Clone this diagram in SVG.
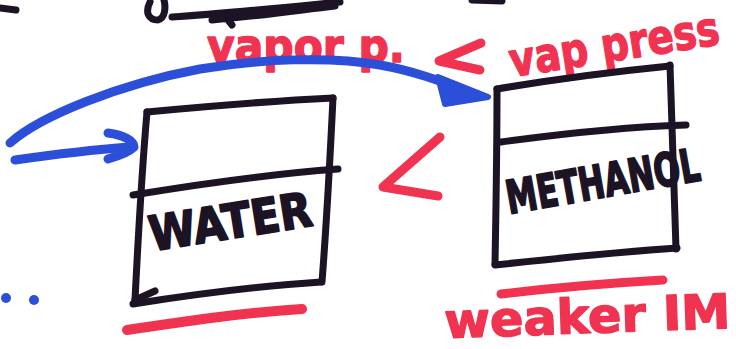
<svg xmlns="http://www.w3.org/2000/svg" width="736" height="349" viewBox="0 0 736 349">
<style>
.blk{fill:none;stroke:#1c1424;stroke-width:7;stroke-linecap:round;stroke-linejoin:round}
.red{fill:none;stroke:#f03350;stroke-width:9;stroke-linecap:round;stroke-linejoin:round}
.blu{fill:none;stroke:#2b4fd9;stroke-width:9;stroke-linecap:round;stroke-linejoin:round}
.lbl{font-family:"DejaVu Sans",sans-serif;font-weight:bold;fill:#1c1424;stroke:#1c1424;stroke-width:2;stroke-linejoin:round}
.rtx{font-family:"DejaVu Sans",sans-serif;font-weight:bold;fill:#f03350;stroke:#f03350;stroke-width:1.5;stroke-linejoin:round}
</style>
<rect width="736" height="349" fill="#ffffff"/>
<!-- top fragments -->
<path class="blk" d="M0,8 L16,10"/>
<path class="blk" d="M150,2 C145,12 148,20 158,20 C165,18 166,8 164,0"/>
<path class="blk" d="M172,17 C220,14 280,8 340,2"/>
<path class="blk" d="M212,20 C260,16 300,10 335,6"/>
<path class="blk" d="M228,20 L232,25"/>
<path class="blk" d="M472,0 L502,1"/>
<!-- red annotations -->
<text class="rtx" x="207" y="62" font-size="46" textLength="198" lengthAdjust="spacingAndGlyphs">vapor p.</text>
<path class="red" d="M481,43 L439,61 L480,70"/>
<text class="rtx" x="512" y="77" font-size="47" textLength="212" lengthAdjust="spacingAndGlyphs" transform="rotate(-9 512 77)">vap press</text>
<path class="red" d="M440,137 L383,187 L438,196"/>
<path class="red" d="M127,330 C180,322 240,313 302,309" style="stroke-width:10"/>
<path class="red" d="M501,294 C560,287 610,283 663,280"/>
<text class="rtx" x="445" y="338" font-size="48" textLength="286" lengthAdjust="spacingAndGlyphs" transform="rotate(-2 445 338)">weaker IM</text>
<!-- nodes -->
<g id="water">
<path class="blk" d="M147,112 C210,106 270,101 333,98"/>
<path class="blk" d="M147,112 C142,170 138,240 135,300"/>
<path class="blk" d="M333,98 C330,160 326,230 322,282"/>
<path class="blk" d="M133,304 C190,295 260,286 321,282"/>
<path class="blk" d="M133,195 C200,184 270,174 338,169"/>
<path class="blk" d="M135,300 L155,291"/>
<text class="lbl" x="152" y="251" font-size="48" textLength="164" lengthAdjust="spacingAndGlyphs" transform="rotate(-9 152 251)">WATER</text>
</g>
<g id="methanol">
<path class="blk" d="M497,89 C550,80 610,72 670,66"/>
<path class="blk" d="M497,89 C497,150 496,210 495,264"/>
<path class="blk" d="M670,65 C672,130 674,190 676,249"/>
<path class="blk" d="M495,265 C560,258 620,252 677,248"/>
<path class="blk" d="M501,142 C560,134 620,127 686,125"/>
<text class="lbl" x="509" y="214" font-size="46" textLength="196" lengthAdjust="spacingAndGlyphs" transform="rotate(-10 509 214)">METHANOL</text>
</g>
<!-- connectors -->
<g id="connectors">
<path class="blu" d="M10,143 C40,116 120,84 200,69 C260,59 330,56 380,65 C420,72 450,85 480,96"/>
<path d="M438,77 L488,97 L445,104 Z" fill="#2b4fd9" stroke="#2b4fd9" stroke-width="6" stroke-linejoin="round"/>
<path class="blu" d="M15,160 C50,155 90,150 130,147"/>
<path class="blu" d="M108,133 C124,135 134,141 134,147 C129,152 118,156 108,159"/>
</g>
<circle cx="6" cy="298" r="5" fill="#2b4fd9"/>
<circle cx="34" cy="300" r="5" fill="#2b4fd9"/>
</svg>
